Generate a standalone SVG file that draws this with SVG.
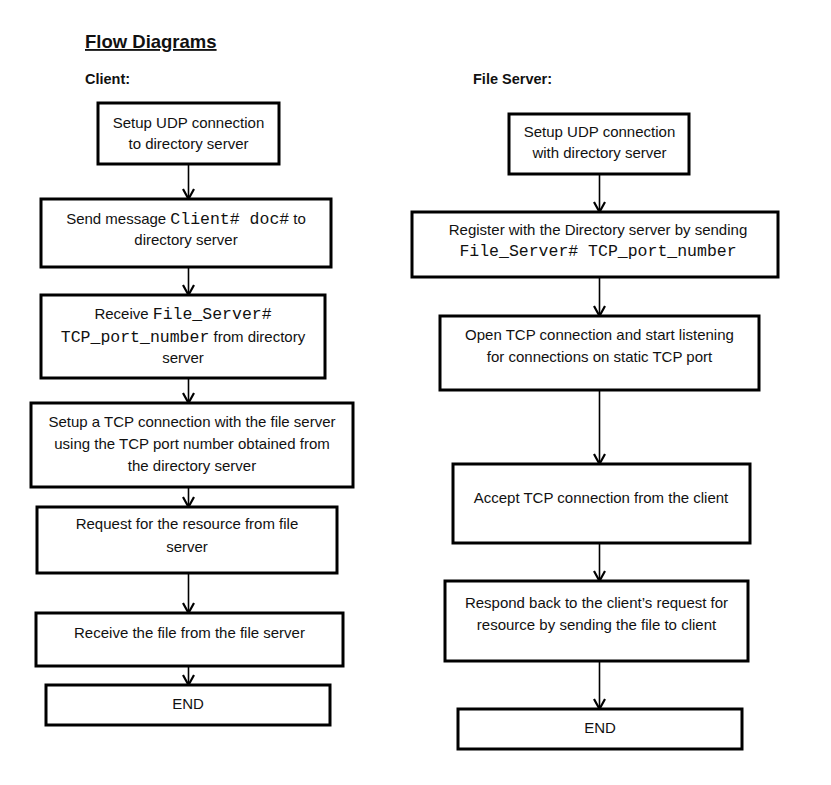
<svg xmlns="http://www.w3.org/2000/svg" width="831" height="785" viewBox="0 0 831 785">
<style>
  .box { fill: #fff; stroke: #000; stroke-width: 3; }
  .t { font-family: "Liberation Sans", Arial, sans-serif; font-size: 15px; fill: #111; text-anchor: middle; }
  .m { font-family: "Liberation Mono", "Courier New", monospace; font-size: 16.5px; }
  .h { font-family: "Liberation Sans", Arial, sans-serif; font-weight: bold; fill: #111; }
  .c { stroke: #000; stroke-width: 1.6; fill: none; marker-end: url(#arr); }
</style>
<defs>
  <marker id="arr" viewBox="0 0 14 14" markerWidth="14" markerHeight="14" refX="12" refY="7" orient="auto" markerUnits="userSpaceOnUse">
    <path d="M2,1.5 L12,7 L2,12.5" fill="none" stroke="#000" stroke-width="2.2"/>
  </marker>
</defs>
<rect width="831" height="785" fill="#fff"/>

<g id="titles">
  <text class="h" x="85" y="48" font-size="18.5" text-decoration="underline">Flow Diagrams</text>
  <text class="h" x="85" y="84" font-size="14.5">Client:</text>
  <text class="h" x="473" y="84" font-size="14.5">File Server:</text>
</g>

<g id="connectors">
  <line class="c" x1="188.5" y1="165" x2="188.5" y2="199"/>
  <line class="c" x1="188.5" y1="268" x2="188.5" y2="295"/>
  <line class="c" x1="188.5" y1="379" x2="188.5" y2="403"/>
  <line class="c" x1="188.5" y1="488" x2="188.5" y2="507"/>
  <line class="c" x1="188.5" y1="574" x2="188.5" y2="613"/>
  <line class="c" x1="188.5" y1="667" x2="188.5" y2="685"/>
  <line class="c" x1="599.5" y1="175" x2="599.5" y2="212"/>
  <line class="c" x1="599.5" y1="278" x2="599.5" y2="316"/>
  <line class="c" x1="599.5" y1="391" x2="599.5" y2="464"/>
  <line class="c" x1="599.5" y1="544" x2="599.5" y2="581"/>
  <line class="c" x1="599.5" y1="662" x2="599.5" y2="709"/>
</g>

<g id="c1">
  <rect class="box" x="98" y="103" width="181" height="61"/>
  <text class="t" x="188.5" y="128">Setup UDP connection</text>
  <text class="t" x="188.5" y="149">to directory server</text>
</g>
<g id="c2">
  <rect class="box" x="41" y="199" width="290" height="68"/>
  <text class="t" x="186" y="224">Send message <tspan class="m">Client# doc#</tspan> to</text>
  <text class="t" x="186" y="245">directory server</text>
</g>
<g id="c3">
  <rect class="box" x="41" y="295" width="284" height="83"/>
  <text class="t" x="183" y="319">Receive <tspan class="m">File_Server#</tspan></text>
  <text class="t" x="183" y="342"><tspan class="m">TCP_port_number</tspan> from directory</text>
  <text class="t" x="183" y="363">server</text>
</g>
<g id="c4">
  <rect class="box" x="31" y="403" width="322" height="84"/>
  <text class="t" x="192" y="427">Setup a TCP connection with the file server</text>
  <text class="t" x="192" y="449">using the TCP port number obtained from</text>
  <text class="t" x="192" y="471">the directory server</text>
</g>
<g id="c5">
  <rect class="box" x="37" y="507" width="300" height="66"/>
  <text class="t" x="187" y="529">Request for the resource from file</text>
  <text class="t" x="187" y="552">server</text>
</g>
<g id="c6">
  <rect class="box" x="36" y="613" width="307" height="53"/>
  <text class="t" x="189.5" y="638">Receive the file from the file server</text>
</g>
<g id="c7">
  <rect class="box" x="46" y="685" width="284" height="40"/>
  <text class="t" x="188" y="709">END</text>
</g>

<g id="s1">
  <rect class="box" x="509" y="114" width="180" height="60"/>
  <text class="t" x="599.5" y="137">Setup UDP connection</text>
  <text class="t" x="599.5" y="158">with directory server</text>
</g>
<g id="s2">
  <rect class="box" x="412" y="212" width="366" height="65"/>
  <text class="t" x="598" y="235">Register with the Directory server by sending</text>
  <text class="t" x="598" y="256"><tspan class="m">File_Server# TCP_port_number</tspan></text>
</g>
<g id="s3">
  <rect class="box" x="440" y="316" width="319" height="74"/>
  <text class="t" x="599.5" y="340">Open TCP connection and start listening</text>
  <text class="t" x="599.5" y="362">for connections on static TCP port</text>
</g>
<g id="s4">
  <rect class="box" x="453" y="464" width="297" height="79"/>
  <text class="t" x="601" y="503">Accept TCP connection from the client</text>
</g>
<g id="s5">
  <rect class="box" x="445" y="581" width="303" height="80"/>
  <text class="t" x="596.5" y="608">Respond back to the client’s request for</text>
  <text class="t" x="596.5" y="630">resource by sending the file to client</text>
</g>
<g id="s6">
  <rect class="box" x="458" y="709" width="284" height="40"/>
  <text class="t" x="600" y="733">END</text>
</g>
</svg>
